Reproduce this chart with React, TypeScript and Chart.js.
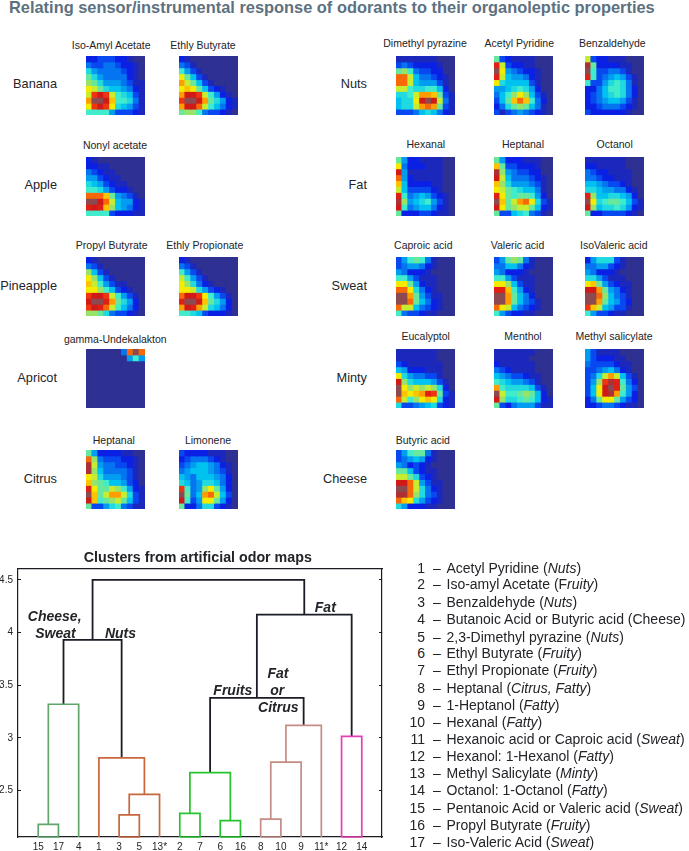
import React, { useEffect, useRef } from "react";
import { Chart, registerables } from "chart.js";

Chart.register(...registerables);

const FONT = '"Liberation Sans", Arial, sans-serif';

// ---------- heat map values, levels 0..20, rows top to bottom ----------
const isoAmylAcetate = [
  [2,2,3,3,3,2,2,1,0,0],[4,3,3,4,4,3,2,2,1,0],[7,5,4,4,4,4,3,2,1,0],[9,7,5,4,4,4,4,2,1,0],[10,9,7,5,5,5,4,3,1,1],
  [12,11,9,7,6,6,5,4,2,1],[11,16,18,16,11,8,7,6,3,1],[14,20,20,18,13,8,8,7,4,1],[12,16,18,16,12,7,6,5,3,1],[8,8,8,8,5,3,3,3,2,1]];
const ethylButyrate = [
  [2,1,0,0,0,0,0,0,0,0],[4,3,1,0,0,0,0,0,0,0],[8,5,3,1,0,0,0,0,0,0],[12,9,6,3,1,0,0,0,0,0],[14,11,9,6,3,1,0,0,0,0],
  [12,13,12,9,6,3,2,1,0,0],[14,18,18,16,11,8,5,2,1,0],[16,20,20,18,14,9,7,5,2,1],[14,18,18,15,11,8,6,4,2,1],[9,10,10,8,4,3,3,2,1,0]];
const nonylAcetate = [
  [2,1,0,0,0,0,0,0,0,0],[2,2,1,1,0,0,0,0,0,0],[4,3,2,1,1,0,0,0,0,0],[5,5,3,2,1,1,0,0,0,0],[7,6,5,3,2,1,1,0,0,0],
  [8,8,7,5,3,2,2,1,0,0],[15,15,15,13,9,5,4,3,1,0],[20,20,18,15,11,6,5,5,2,1],[17,18,17,13,10,6,5,4,2,1],[8,8,8,8,3,2,2,2,1,1]];
const propylButyrate = [
  [2,1,0,0,0,0,0,0,0,0],[4,3,1,0,0,0,0,0,0,0],[10,6,3,1,0,0,0,0,0,0],[12,10,6,3,1,0,0,0,0,0],[13,11,8,5,3,1,1,0,0,0],
  [12,12,10,8,6,3,2,1,0,0],[16,18,18,16,11,8,5,3,1,0],[18,20,20,17,14,9,7,5,2,0],[16,18,17,15,11,8,6,4,2,0],[10,10,9,7,4,3,3,2,1,0]];
const ethylPropionate = [
  [2,1,0,0,0,0,0,0,0,0],[4,3,1,0,0,0,0,0,0,0],[8,5,3,1,0,0,0,0,0,0],[11,8,5,3,1,0,0,0,0,0],[12,10,7,4,2,1,0,0,0,0],
  [12,12,11,7,5,3,2,1,0,0],[15,18,18,16,12,8,5,3,1,0],[17,20,20,18,13,9,7,5,2,0],[14,18,17,14,11,7,6,4,2,0],[8,8,7,6,3,2,2,2,1,0]];
const gammaUndekalakton = [
  [0,0,0,0,0,0,4,15,20,15],[0,0,0,0,0,0,0,5,8,5],[0,0,0,0,0,0,0,0,0,0],[0,0,0,0,0,0,0,0,0,0],[0,0,0,0,0,0,0,0,0,0],
  [0,0,0,0,0,0,0,0,0,0],[0,0,0,0,0,0,0,0,0,0],[0,0,0,0,0,0,0,0,0,0],[0,0,0,0,0,0,0,0,0,0],[0,0,0,0,0,0,0,0,0,0]];
const heptanalCitrus = [
  [9,5,2,2,2,2,1,1,0,0],[15,10,4,3,3,3,2,2,1,0],[19,11,5,4,4,3,3,2,1,0],[19,10,6,4,4,4,4,3,1,0],[12,11,7,5,5,5,4,3,1,0],
  [13,10,9,8,6,6,5,3,2,0],[17,12,9,9,11,10,8,5,2,1],[20,13,9,11,14,14,11,7,3,1],[18,13,8,9,10,11,9,6,3,1],[9,3,3,5,7,8,4,3,1,1]];
const limonene = [
  [3,2,2,2,2,1,1,1,0,0],[2,3,4,4,4,3,2,1,0,0],[3,4,5,6,6,5,4,2,1,0],[4,5,6,6,6,5,4,3,1,0],[6,5,4,6,6,6,5,4,2,0],
  [7,6,4,5,7,7,6,4,2,0],[16,8,4,5,10,12,9,5,2,0],[20,9,4,6,14,15,11,6,3,0],[18,8,3,5,12,12,9,5,2,0],[9,2,2,4,7,7,3,2,1,0]];
const dimethylPyrazine = [
  [1,1,1,1,1,1,1,0,0,0],[3,4,3,2,2,2,2,1,0,0],[9,10,8,4,3,3,2,2,0,0],[15,15,11,6,4,4,3,2,1,0],[15,15,11,6,5,5,5,3,1,0],
  [11,11,8,7,7,8,8,6,2,0],[7,7,8,11,14,14,13,9,3,1],[6,7,7,12,18,20,18,11,4,1],[6,7,7,11,14,15,14,9,3,1],[3,3,3,4,6,7,6,4,2,1]];
const acetylPyridine = [
  [9,3,2,1,1,1,1,0,0,0],[17,11,3,2,2,1,1,0,0,0],[20,12,5,4,3,2,2,1,0,0],[17,11,6,5,5,4,2,1,0,0],[12,7,6,6,6,6,3,1,0,0],
  [5,5,6,7,8,7,5,2,0,0],[4,6,8,10,12,10,6,3,1,0],[3,6,9,13,15,13,8,4,2,0],[2,4,7,9,10,9,6,4,1,0],[3,1,3,4,5,4,3,2,1,0]];
const benzaldehyde = [
  [11,3,2,2,1,1,1,0,0,0],[19,9,2,2,2,2,1,1,0,0],[20,8,3,3,4,4,3,1,0,0],[17,8,3,4,5,6,5,3,1,0],[8,3,3,5,7,8,7,4,1,0],
  [2,2,4,6,8,8,7,4,2,0],[2,3,4,6,7,8,7,4,2,0],[2,3,4,5,6,6,5,3,1,0],[2,2,3,4,4,4,3,2,1,0],[3,2,2,2,2,2,2,1,0,0]];
const hexanal = [
  [9,5,2,2,1,1,1,1,0,0],[12,4,2,2,2,1,1,1,0,0],[18,5,1,1,1,1,1,1,0,0],[15,5,2,1,1,1,1,1,0,0],[13,6,2,2,2,2,1,1,0,0],
  [11,6,3,3,3,3,2,1,0,0],[17,8,4,5,6,5,3,2,1,0],[19,10,5,6,7,8,5,3,1,0],[18,8,4,5,6,6,4,2,1,0],[9,2,2,2,3,3,2,1,1,0]];
const heptanalFat = [
  [9,5,2,2,2,1,1,1,0,0],[13,9,3,3,2,2,2,1,0,0],[19,10,5,4,3,3,2,2,0,0],[18,11,6,4,4,4,3,2,1,0],[13,10,7,5,5,5,4,3,1,0],
  [12,11,9,8,7,6,6,4,1,0],[17,12,9,8,9,9,8,5,2,0],[20,13,9,11,14,15,12,7,3,1],[18,12,9,10,11,11,9,6,2,1],[9,3,3,6,7,8,4,3,1,0]];
const octanol = [
  [1,1,1,1,1,1,1,0,0,0],[2,2,1,1,1,1,1,0,0,0],[4,3,2,2,1,1,1,1,0,0],[4,4,3,2,2,1,1,1,0,0],[6,6,5,4,3,3,2,1,0,0],
  [7,7,6,5,5,4,4,2,1,0],[17,10,6,6,7,7,6,5,2,0],[20,12,7,8,9,9,8,6,3,1],[18,10,6,7,7,8,7,5,2,1],[9,2,2,3,3,3,3,2,1,0]];
const caproicAcid = [
  [3,5,8,9,8,4,1,0,0,0],[3,4,5,5,4,2,1,0,0,0],[5,4,2,2,2,1,0,0,0,0],[8,8,5,3,1,1,1,0,0,0],[12,12,9,5,2,1,1,0,0,0],
  [15,15,12,7,4,2,1,0,0,0],[20,20,14,9,5,3,1,1,0,0],[20,20,15,9,6,4,2,1,0,0],[15,11,11,6,4,3,2,1,0,0],[8,4,3,3,2,1,1,0,0,0]];
const valericAcid = [
  [3,5,9,10,9,4,1,0,0,0],[4,4,6,6,4,2,1,0,0,0],[5,4,2,2,2,1,0,0,0,0],[8,8,5,3,1,1,1,0,0,0],[12,12,10,6,3,1,1,0,0,0],
  [17,17,13,8,5,2,1,0,0,0],[20,20,14,9,6,4,2,0,0,0],[20,20,14,9,6,4,3,1,0,0],[15,12,11,6,4,3,2,1,0,0],[8,5,3,2,2,1,1,0,0,0]];
const isoValericAcid = [
  [2,5,7,7,7,3,1,0,0,0],[4,4,5,5,3,2,1,0,0,0],[5,4,2,2,2,1,0,0,0,0],[7,7,5,3,1,1,1,0,0,0],[12,13,9,5,3,2,1,1,0,0],
  [18,18,14,9,5,4,2,1,0,0],[20,20,15,10,6,4,3,1,0,0],[20,20,14,9,6,5,3,2,0,0],[16,13,11,6,5,3,3,1,0,0],[8,5,3,3,2,1,1,0,0,0]];
const eucalyptol = [
  [1,1,1,1,1,1,1,0,0,0],[1,1,1,1,1,1,1,0,0,0],[3,2,1,1,1,1,1,1,0,0],[6,5,2,2,2,1,1,1,0,0],[12,7,5,4,4,3,3,1,0,0],
  [18,10,7,6,6,6,5,3,1,0],[20,12,10,11,10,11,10,7,2,0],[20,13,12,13,14,17,16,9,3,1],[15,11,8,10,12,13,12,7,2,1],[7,3,3,4,5,6,7,3,2,1]];
const menthol = [
  [1,1,1,1,1,1,1,0,0,0],[1,1,1,1,1,1,0,0,0,0],[2,1,1,1,1,1,1,0,0,0],[4,3,2,1,1,1,1,0,0,0],[6,5,4,3,3,2,1,1,0,0],
  [8,7,6,5,5,4,3,1,0,0],[14,8,7,7,7,7,6,3,1,0],[20,11,8,8,9,10,9,6,2,0],[18,10,7,7,8,9,8,6,2,1],[9,3,2,4,5,5,5,3,1,1]];
const methylSalicylate = [
  [5,3,1,1,1,1,0,0,0,0],[5,3,2,2,2,1,1,0,0,0],[4,3,3,3,3,2,1,1,0,0],[3,3,4,5,6,4,2,1,0,0],[3,4,7,11,14,11,6,3,1,0],
  [3,5,10,16,19,17,8,4,2,0],[3,6,12,18,20,17,9,5,3,0],[3,6,12,18,19,14,8,5,2,0],[2,4,9,12,12,9,5,3,2,0],[2,2,3,4,4,3,2,1,1,0]];
const butyricAcid = [
  [3,5,8,9,9,4,1,0,0,0],[3,4,5,6,5,2,1,0,0,0],[5,4,2,3,2,1,0,0,0,0],[9,9,6,3,2,1,1,0,0,0],[11,11,9,7,3,2,1,0,0,0],
  [18,18,15,11,5,3,1,1,0,0],[20,20,15,11,7,4,2,1,0,0],[19,19,15,10,7,4,3,1,0,0],[15,13,12,7,5,3,2,1,0,0],[7,5,2,2,2,1,1,0,0,0]];

// ---------- dendrogram values ----------
const leafOrder = [15, 17, 4, 1, 3, 5, 13, 2, 7, 6, 16, 8, 10, 9, 11, 12, 14];
const leafLabels = ["15", "17", "4", "1", "3", "5", "13*", "2", "7", "6", "16", "8", "10", "9", "11*", "12", "14"];
// positive child = odorant number, negative child = earlier merge (1-based)
const mergeLeft = [15, -1, 3, -3, 1, -2, 2, 6, -7, 8, -10, -11, -9, 12, -13, -6];
const mergeRight = [17, 4, 5, 13, -4, -5, 7, 16, -8, 10, 9, 11, -12, 14, -14, -15];
const mergeHeight = [2.18, 3.32, 2.27, 2.465, 2.81, 3.93, 2.285, 2.215, 2.67, 2.23, 2.77, 3.12, 3.38, 3.015, 4.17, 4.5];
const mergeGroup = ["sage", "sage", "rust", "rust", "rust", "black", "lime", "lime", "lime", "rose", "rose", "rose", "black", "pink", "black", "black"];
const yTickValues = [2.5, 3, 3.5, 4, 4.5];

const legendNumbers = ["1","2","3","4","5","6","7","8","9","10","11","12","13","14","15","16","17"];
const legendTexts: [string, string, string][] = [
  ["Acetyl Pyridine (", "Nuts", ")"],
  ["Iso-amyl Acetate (F", "ruity", ")"],
  ["Benzaldehyde (", "Nuts", ")"],
  ["Butanoic Acid or Butyric acid (Cheese)", "", ""],
  ["2,3-Dimethyl pyrazine (", "Nuts", ")"],
  ["Ethyl Butyrate (", "Fruity", ")"],
  ["Ethyl Propionate (", "Fruity", ")"],
  ["Heptanal (", "Citrus, Fatty", ")"],
  ["1-Heptanol (", "Fatty", ")"],
  ["Hexanal (", "Fatty", ")"],
  ["Hexanoic acid or Caproic acid (", "Sweat", ")"],
  ["Hexanol: 1-Hexanol (", "Fatty", ")"],
  ["Methyl Salicylate (", "Minty", ")"],
  ["Octanol: 1-Octanol (", "Fatty", ")"],
  ["Pentanoic Acid or Valeric acid (", "Sweat", ")"],
  ["Propyl Butyrate (", "Fruity", ")"],
  ["Iso-Valeric Acid (", "Sweat", ")"],
];

// ---------- styles and layout ----------
const groupColors: Record<string, string> = {
  sage: "#5fa56c", rust: "#c8663c", lime: "#25c42e", rose: "#c48c84", pink: "#e43fb4", black: "#1b1d26",
};
const jetStops = ["#2e3192","#1c28bc","#0a20e4","#0848f0","#0474f0","#029cf0","#00c2f0","#20dae0","#40eccc","#68e89c",
  "#98e468","#c8ec30","#f4ec00","#fcc400","#ff9c00","#f86808","#f03410","#e02014","#d01a18","#ac3034","#8c4a50"];

const heatCols = [85.5, 178.5, 396, 493.5, 585];
const heatRows = [55.5, 156.5, 257, 349, 450];
const heatSize = 59;

const heatmaps = [
  { t: "Iso-Amyl Acetate", v: isoAmylAcetate, c: 0, r: 0, tx: 111.2, ty: 45 },
  { t: "Ethly Butyrate", v: ethylButyrate, c: 1, r: 0, tx: 203, ty: 45 },
  { t: "Nonyl acetate", v: nonylAcetate, c: 0, r: 1, tx: 115, ty: 145 },
  { t: "Propyl Butyrate", v: propylButyrate, c: 0, r: 2, tx: 111.7, ty: 245.3 },
  { t: "Ethly Propionate", v: ethylPropionate, c: 1, r: 2, tx: 204.8, ty: 245.3 },
  { t: "gamma-Undekalakton", v: gammaUndekalakton, c: 0, r: 3, tx: 115.3, ty: 339.3 },
  { t: "Heptanal", v: heptanalCitrus, c: 0, r: 4, tx: 113.8, ty: 440 },
  { t: "Limonene", v: limonene, c: 1, r: 4, tx: 208, ty: 440 },
  { t: "Dimethyl pyrazine", v: dimethylPyrazine, c: 2, r: 0, tx: 425, ty: 42.7 },
  { t: "Acetyl Pyridine", v: acetylPyridine, c: 3, r: 0, tx: 519.3, ty: 42.7 },
  { t: "Benzaldehyde", v: benzaldehyde, c: 4, r: 0, tx: 612.3, ty: 42.7 },
  { t: "Hexanal", v: hexanal, c: 2, r: 1, tx: 425.8, ty: 144 },
  { t: "Heptanal", v: heptanalFat, c: 3, r: 1, tx: 523, ty: 144 },
  { t: "Octanol", v: octanol, c: 4, r: 1, tx: 614.7, ty: 144 },
  { t: "Caproic acid", v: caproicAcid, c: 2, r: 2, tx: 423.3, ty: 244.7 },
  { t: "Valeric acid", v: valericAcid, c: 3, r: 2, tx: 517.5, ty: 244.7 },
  { t: "IsoValeric acid", v: isoValericAcid, c: 4, r: 2, tx: 613.8, ty: 244.7 },
  { t: "Eucalyptol", v: eucalyptol, c: 2, r: 3, tx: 425.7, ty: 336.3 },
  { t: "Menthol", v: menthol, c: 3, r: 3, tx: 523, ty: 336.3 },
  { t: "Methyl salicylate", v: methylSalicylate, c: 4, r: 3, tx: 614, ty: 336.3 },
  { t: "Butyric acid", v: butyricAcid, c: 2, r: 4, tx: 422.8, ty: 440 },
];

const odorLabels = [
  { t: "Banana", x: 57, y: 84 }, { t: "Apple", x: 57, y: 185 }, { t: "Pineapple", x: 57, y: 285.7 },
  { t: "Apricot", x: 57, y: 377.7 }, { t: "Citrus", x: 57, y: 478.7 },
  { t: "Nuts", x: 367, y: 84 }, { t: "Fat", x: 367, y: 185.3 }, { t: "Sweat", x: 367, y: 285.7 },
  { t: "Minty", x: 367, y: 377.7 }, { t: "Cheese", x: 367, y: 479 },
];

const clusterNotes = [
  { t: "Cheese,", x: 54.7, y: 616 }, { t: "Sweat", x: 55.5, y: 632.7 }, { t: "Nuts", x: 120.5, y: 632.7 },
  { t: "Fat", x: 325.3, y: 606.7 }, { t: "Fat", x: 278, y: 672.7 }, { t: "or", x: 277.3, y: 689.7 },
  { t: "Citrus", x: 278.3, y: 706.7 }, { t: "Fruits", x: 232.8, y: 689.7 },
];
const legendY = [568, 584.3, 602.3, 619.3, 637, 653.3, 670.3, 687.7, 704.7, 722, 739, 756.3, 773.3, 790, 807.7, 825, 841.7];

function Label(props: { x: number; y: number; anchor?: "l" | "c" | "r"; style?: React.CSSProperties; children: React.ReactNode }) {
  const tx = props.anchor === "r" ? "-100%" : props.anchor === "c" ? "-50%" : "0";
  return (
    <div style={{ position: "absolute", left: props.x, top: props.y, transform: `translate(${tx},-50%)`, whiteSpace: "nowrap",
      lineHeight: 1, fontFamily: FONT, color: "#222428", ...props.style }}>{props.children}</div>
  );
}

function Heat({ values, x, y }: { values: number[][]; x: number; y: number }) {
  const ref = useRef<HTMLCanvasElement>(null);
  useEffect(() => {
    const cols = values[0].map((_, i) => String(i));
    const chart = new Chart(ref.current!, {
      type: "bar",
      data: {
        labels: cols,
        datasets: values.map((row) => ({
          data: row.map(() => 1),
          backgroundColor: row.map((lv) => jetStops[lv]),
          borderWidth: 0,
          barPercentage: 1,
          categoryPercentage: 1,
          inflateAmount: 0.45,
        })),
      },
      options: {
        animation: false,
        responsive: false,
        maintainAspectRatio: false,
        layout: { padding: 0 },
        plugins: { legend: { display: false }, tooltip: { enabled: false }, title: { display: false } },
        scales: {
          x: { stacked: true, display: false },
          y: { stacked: true, display: false, reverse: true, min: 0, max: values.length },
        },
      },
    });
    return () => chart.destroy();
  }, [values]);
  return (
    <canvas ref={ref} width={heatSize} height={heatSize}
      style={{ position: "absolute", left: x, top: y, width: heatSize, height: heatSize, background: jetStops[0], filter: "blur(0.6px)" }} />
  );
}

function Dendrogram() {
  const ref = useRef<HTMLCanvasElement>(null);
  useEffect(() => {
    const yMin = 2.06;
    const yMax = 4.61;
    const leafPos = (n: number) => leafOrder.indexOf(n) + 1;
    const pos: number[] = [];
    const childX = (c: number) => (c > 0 ? leafPos(c) : pos[-c - 1]);
    const childY = (c: number) => (c > 0 ? yMin : mergeHeight[-c - 1]);
    const datasets = mergeHeight.map((h, i) => {
      const a = mergeLeft[i];
      const b = mergeRight[i];
      const xa = childX(a);
      const xb = childX(b);
      pos[i] = (xa + xb) / 2;
      const path = [
        { x: xa, y: childY(a) }, { x: xa, y: h }, { x: xb, y: h }, { x: xb, y: childY(b) },
      ];
      if (a > 0 && b > 0) path.push({ x: xa, y: yMin });
      return {
        data: path,
        showLine: true,
        borderColor: groupColors[mergeGroup[i]],
        borderWidth: mergeGroup[i] === "black" ? 1.8 : 1.7,
        pointRadius: 0,
        tension: 0,
        clip: false as const,
        borderJoinStyle: "miter" as const,
      };
    });
    const frame = { color: "#1b1d22", width: 1.2 };
    const chart = new Chart(ref.current!, {
      type: "scatter",
      data: { datasets },
      options: {
        animation: false,
        responsive: false,
        maintainAspectRatio: false,
        layout: { padding: { top: 28.3, right: 18, left: 0, bottom: 0 } },
        plugins: { legend: { display: false }, tooltip: { enabled: false } },
        scales: {
          x: {
            type: "linear", position: "bottom", min: 0, max: 18,
            afterBuildTicks: (s: any) => { s.ticks = leafOrder.map((_, i) => ({ value: i + 1 })); },
            afterFit: (s: any) => { s.height = 13.7; },
            grid: { drawOnChartArea: false, drawTicks: false },
            border: frame,
            ticks: {
              autoSkip: false, maxRotation: 0, minRotation: 0, padding: 4, color: "#222428",
              font: { family: FONT, size: 10 },
              callback: (v: any) => leafLabels[Number(v) - 1] ?? "",
            },
          },
          xTop: {
            type: "linear", position: "top", min: 0, max: 18,
            afterFit: (s: any) => { s.height = 0; },
            grid: { drawOnChartArea: false, drawTicks: false },
            border: frame,
            ticks: { display: false },
          },
          y: {
            type: "linear", position: "left", min: yMin, max: yMax,
            afterBuildTicks: (s: any) => { s.ticks = yTickValues.map((value) => ({ value })); },
            afterFit: (s: any) => { s.width = 18; },
            grid: { drawOnChartArea: false, tickLength: -3, tickColor: "#1b1d22", tickWidth: 1 },
            border: frame,
            ticks: { padding: 8, color: "#222428", font: { family: FONT, size: 10 }, callback: (v: any) => String(v) },
          },
          yRight: {
            type: "linear", position: "right", min: yMin, max: yMax,
            afterBuildTicks: (s: any) => { s.ticks = yTickValues.map((value) => ({ value })); },
            afterFit: (s: any) => { s.width = 0; },
            grid: { drawOnChartArea: false, tickLength: -3, tickColor: "#1b1d22", tickWidth: 1 },
            border: frame,
            ticks: { display: false },
          },
        },
      },
    });
    return () => chart.destroy();
  }, []);
  return <canvas ref={ref} width={400} height={311} style={{ position: "absolute", left: 0, top: 540, width: 400, height: 311 }} />;
}

export default function App() {
  return (
    <div style={{ position: "absolute", left: 0, top: 0, width: 689, height: 851, background: "#fff", overflow: "hidden" }}>
      <Label x={9} y={6.5} style={{ fontSize: 16.4, fontWeight: 700, color: "#5d7180" }}>
        Relating sensor/instrumental response of odorants to their organoleptic properties
      </Label>

      {odorLabels.map((l) => (
        <Label key={l.t} x={l.x} y={l.y} anchor="r" style={{ fontSize: 12.75 }}>{l.t}</Label>
      ))}

      {heatmaps.map((h) => (
        <React.Fragment key={h.t + h.c}>
          <Label x={h.tx} y={h.ty} anchor="c" style={{ fontSize: 10.5 }}>{h.t}</Label>
          <Heat values={h.v} x={heatCols[h.c]} y={heatRows[h.r]} />
        </React.Fragment>
      ))}

      <Dendrogram />
      <Label x={197.8} y={556.7} anchor="c" style={{ fontSize: 14.25, fontWeight: 700 }}>Clusters from artificial odor maps</Label>
      {clusterNotes.map((n) => (
        <Label key={n.t + n.y} x={n.x} y={n.y} anchor="c" style={{ fontSize: 14, fontWeight: 700, fontStyle: "italic" }}>{n.t}</Label>
      ))}

      {legendNumbers.map((n, i) => (
        <React.Fragment key={n}>
          <Label x={425} y={legendY[i]} anchor="r" style={{ fontSize: 14 }}>{n}</Label>
          <Label x={433} y={legendY[i]} style={{ fontSize: 14 }}>–</Label>
          <Label x={446.5} y={legendY[i]} style={{ fontSize: 14 }}>
            {legendTexts[i][0]}<i>{legendTexts[i][1]}</i>{legendTexts[i][2]}
          </Label>
        </React.Fragment>
      ))}
    </div>
  );
}
